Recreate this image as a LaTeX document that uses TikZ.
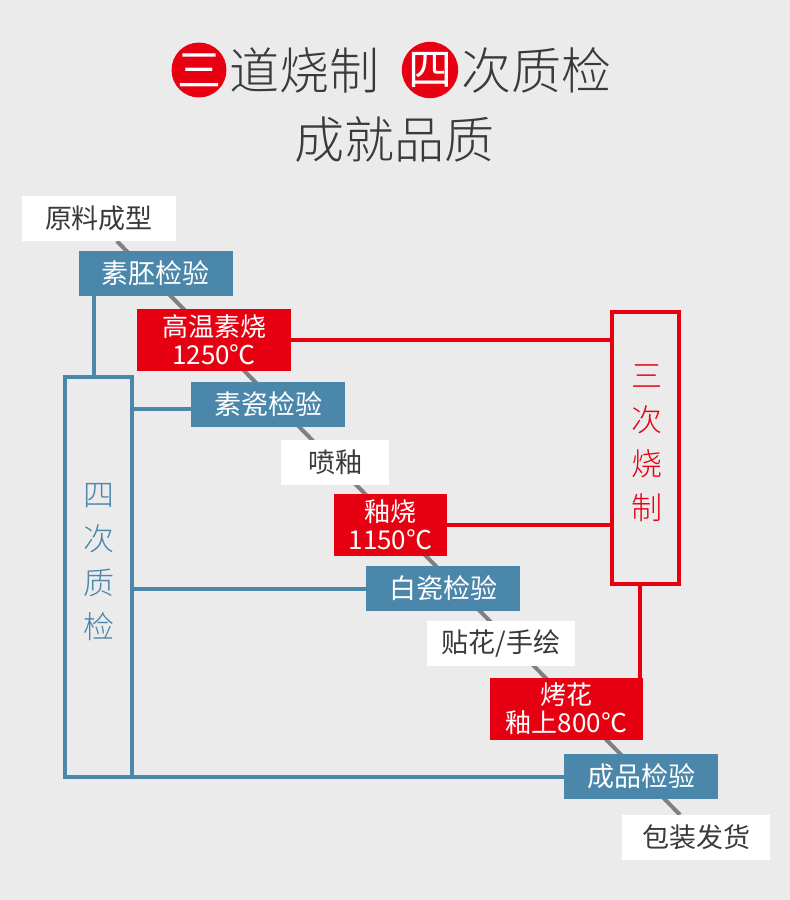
\documentclass[tikz,border=0pt]{standalone}
\usepackage{fontspec}
\setmainfont{Noto Sans CJK SC}
\newfontfamily\lightfont{Noto Sans CJK SC Light}
\usetikzlibrary{positioning}
\usetikzlibrary{backgrounds}
\definecolor{bggray}{HTML}{EBEBEB}
\definecolor{inkgray}{HTML}{3A3A3A}
\definecolor{qcblue}{HTML}{4A87AB}
\definecolor{firered}{HTML}{E60012}
\definecolor{flowgray}{HTML}{808080}

\begin{document}
\begin{tikzpicture}[x=1pt,y=-1pt,
         title/.style={text=inkgray,inner sep=0pt,font=\lightfont\fontsize{50}{50}\selectfont},
         badge/.style={circle,fill=firered,text=white,minimum size=54,inner sep=0pt,font=\fontsize{44}{44}\selectfont},
         whbox/.style={fill=white,text=inkgray,minimum width=154,minimum height=45,inner sep=0pt,font=\fontsize{27}{28}\selectfont},
         qcbox/.style={fill=qcblue,text=white,minimum width=154,minimum height=45,inner sep=0pt,font=\fontsize{27}{28}\selectfont},
         firebox/.style={fill=firered,text=white,minimum width=154,minimum height=62,inner sep=0pt,font=\fontsize{26}{28}\selectfont},
         qcframe/.style={draw=qcblue,line width=4pt,minimum width=67,inner sep=0pt},
         fireframe/.style={draw=firered,line width=4pt,minimum width=67,inner sep=0pt},
         qcline/.style={draw=qcblue,line width=4pt},
         fireline/.style={draw=firered,line width=4pt},
         flow/.style={draw=flowgray,line width=4pt},
      every node/.append style={align=center}]
      %
         \begin{pgfonlayer}{background}
            % page background
            \path[fill=bggray] (0,0) rectangle (790,900);
         \end{pgfonlayer}
      %% title
         \node (tnum1) at (199,70) [badge] {三};
         \node (tline1) [right=3 of tnum1,title] {道烧制};
         \node (tnum2) at (430,70) [badge] {四};
         \node (tline2) [right=3 of tnum2,title] {次质检};
         \node (tline3) at (394,140) [title] {成就品质};
      %% process steps
         \node (yuanliao) at (99,218.5) [whbox] {原料成型};
         \node (supi) at (155.5,273.5) [qcbox] {素胚检验};
         \node (gaowen) at (214,340) [firebox] {高温素烧\\1250℃};
         \node (suci) at (268,404.5) [qcbox] {素瓷检验};
         \node (penyou) at (335,462.5) [whbox,minimum width=108] {喷釉};
         \node (youshao) at (390.5,525) [firebox,minimum width=113] {釉烧\\1150℃};
         \node (baici) at (443,588.5) [qcbox] {白瓷检验};
         \node (tiehua) at (501,643.5) [whbox,minimum width=148] {贴花/手绘};
         \node (kaohua) at (566.5,709) [firebox,minimum width=153] {烤花\\釉上800℃};
         \node (chengpin) at (641,776.5) [qcbox] {成品检验};
         \node (baozhuang) at (696,837.5) [whbox,minimum width=148] {包装发货};
      %
         \begin{pgfonlayer}{background}
            % diagonal flow behind the steps
            \coordinate (flowtop) at ([xshift=18]yuanliao.south);
            \coordinate (flowend) at ([xshift=-16]baozhuang.north);
            \draw[flow] (flowtop) -- (flowend);
         \end{pgfonlayer}
      %% four quality checks
         \node (sici) at (98.5,577) [qcframe,minimum height=400] {};
         \node (sicitext) at ([yshift=15]sici.center) [text=qcblue,font=\lightfont\fontsize{31}{44}\selectfont] {四\\次\\质\\检};
         \coordinate (supifoot) at ([xshift=16]supi.south west);
         \draw[qcline] (supifoot) -- (supifoot |- sici.north);
         \coordinate (sucifoot) at ([yshift=-4]suci.west);
         \draw[qcline] (sucifoot) -- (sucifoot -| sici.east);
         \draw[qcline] (baici.west) -- (baici.west -| sici.east);
         \draw[qcline] (chengpin.west) -- (chengpin.west -| sici.east);
      %% three firings
         \node (sanci) at (645.5,448) [fireframe,minimum height=272] {};
         \node (sancitext) at ([xshift=1.5,yshift=5]sanci.center) [text=firered,font=\lightfont\fontsize{31}{44}\selectfont] {三\\次\\烧\\制};
         \draw[fireline] (gaowen.east) -- (gaowen.east -| sanci.west);
         \draw[fireline] (youshao.east) -- (youshao.east -| sanci.west);
         \coordinate (kaotop) at ([xshift=-3]kaohua.north east);
         \draw[fireline] (kaotop |- sanci.south) -- (kaotop);
   \end{tikzpicture}
\end{document}
